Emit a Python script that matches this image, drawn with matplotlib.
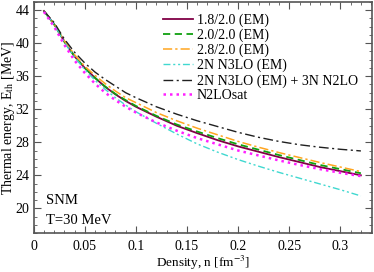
import matplotlib
matplotlib.use('Agg')
import matplotlib.pyplot as plt
from matplotlib.ticker import MultipleLocator

plt.rcParams['font.family'] = ['Liberation Serif', 'DejaVu Serif']
plt.rcParams['mathtext.fontset'] = 'stix'

density = [0.01, 0.02, 0.03, 0.04, 0.05, 0.06, 0.07, 0.08, 0.09, 0.10, 0.12,
           0.14, 0.16, 0.18, 0.20, 0.22, 0.24, 0.26, 0.28, 0.30, 0.32]

em_18 = [43.9, 42.3, 40.2, 38.4, 37.0, 35.8, 34.7, 33.8, 33.0, 32.3, 31.1,
         30.0, 29.1, 28.25, 27.5, 26.85, 26.2, 25.6, 25.0, 24.5, 24.0]
em_20 = [43.9, 42.3, 40.2, 38.4, 37.0, 35.8, 34.75, 33.85, 33.1, 32.4, 31.2,
         30.15, 29.3, 28.5, 27.75, 27.1, 26.45, 25.85, 25.25, 24.75, 24.25]
em_28 = [43.9, 42.35, 40.3, 38.6, 37.2, 36.1, 35.1, 34.2, 33.4, 32.8, 31.6,
         30.6, 29.7, 28.9, 28.1, 27.4, 26.75, 26.15, 25.55, 25.0, 24.45]
n3lo = [43.9, 42.3, 40.1, 38.3, 36.8, 35.5, 34.4, 33.4, 32.5, 31.7, 30.3,
        29.0, 27.8, 26.8, 25.9, 25.1, 24.35, 23.65, 22.95, 22.25, 21.5]
n3lo_3n = [43.9, 42.5, 40.5, 38.9, 37.6, 36.5, 35.6, 34.8, 34.0, 33.4, 32.3,
           31.4, 30.6, 29.9, 29.2, 28.6, 28.1, 27.7, 27.4, 27.15, 26.95]
n2losat = [43.8, 42.0, 39.8, 37.9, 36.4, 35.1, 34.0, 33.1, 32.3, 31.6, 30.4,
           29.4, 28.5, 27.75, 27.0, 26.4, 25.8, 25.25, 24.75, 24.3, 23.9]

fig = plt.figure(figsize=(3.74, 2.72), dpi=100)
ax = fig.add_axes([0.09, 0.143, 0.905, 0.85])

ax.plot(density, em_18, color='#800045', lw=1.3, label='1.8/2.0 (EM)')
ax.plot(density, em_20, color='#10a010', lw=1.3, dashes=(4, 2.5), label='2.0/2.0 (EM)')
ax.plot(density, em_28, color='#ffa520', lw=1.1, dashes=(6, 2, 1.5, 2), label='2.8/2.0 (EM)')
ax.plot(density, n3lo, color='#40d8d0', lw=1.0, dashes=(5, 2, 1.5, 2, 1.5, 2), label='2N N3LO (EM)')
ax.plot(density, n3lo_3n, color='#202020', lw=1.0, dashes=(7, 2.5, 1.5, 2.5),
        label='2N N3LO (EM) + 3N N2LO')
ax.plot(density, n2losat, color='#ff20ff', lw=1.8, dashes=(1, 1.6), label='N2LOsat')

ax.set_xlim(0, 0.331)
ax.set_ylim(17, 45)
ax.xaxis.set_major_locator(MultipleLocator(0.05))
ax.xaxis.set_minor_locator(MultipleLocator(0.01))
ax.yaxis.set_major_locator(MultipleLocator(4))
ax.yaxis.set_minor_locator(MultipleLocator(1))
ax.set_xticks([0, 0.05, 0.1, 0.15, 0.2, 0.25, 0.3])
ax.set_xticklabels(['0', '0.05', '0.1', '0.15', '0.2', '0.25', '0.3'])
ax.tick_params(which='both', direction='in', top=True, right=True,
               labelsize=10, color='#555555')
ax.tick_params(axis='x', pad=5)
ax.tick_params(axis='y', pad=3)
ax.tick_params(which='major', length=5)
ax.tick_params(which='minor', length=2.5)
for s in ax.spines.values():
    s.set_color('#555555')
    s.set_linewidth(1.2)

ax.set_xlabel('Density, n [fm$^{-3}$]', fontsize=9.5)
ax.set_ylabel('Thermal energy, E$_{\\rm th}$ [MeV]', fontsize=10)
ax.xaxis.set_label_coords(0.5, -0.09)
ax.yaxis.set_label_coords(-0.05, 0.5)

ax.text(0.012, 20.5, 'SNM', fontsize=10.5)
ax.text(0.012, 18.1, 'T=30 MeV', fontsize=10.5)

ax.legend(loc='upper right', bbox_to_anchor=(0.958, 0.95), frameon=False,
          fontsize=10, handlelength=2.2, handletextpad=0.25, labelspacing=0.12,
          borderaxespad=0, borderpad=0)

fig.savefig('out.png', dpi=100)
